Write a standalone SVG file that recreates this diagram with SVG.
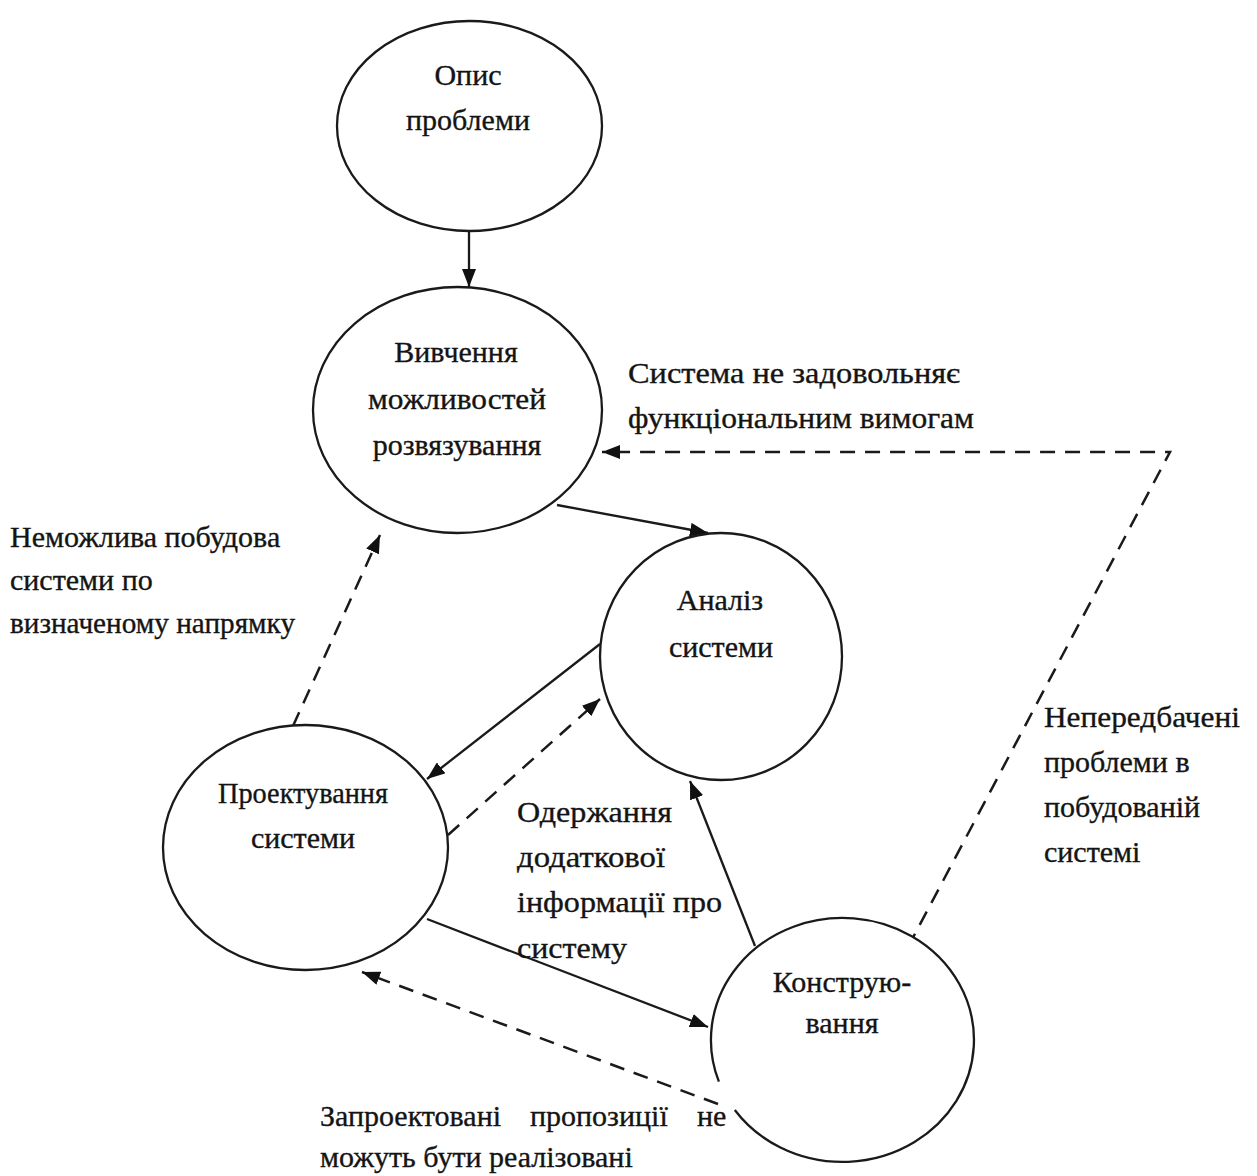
<svg xmlns="http://www.w3.org/2000/svg" width="1257" height="1176" viewBox="0 0 1257 1176">
  <style>
    .node { fill: #ffffff; stroke: #1a1a1a; stroke-width: 2.3; }
    .lbl { font-family: "Liberation Serif", "Times New Roman", serif; font-size: 30px; fill: #141414; stroke: #141414; stroke-width: 0.35; }
    .ctr { text-anchor: middle; }
    .solid { fill: none; stroke: #1a1a1a; stroke-width: 2.3; }
    .dash { fill: none; stroke: #1a1a1a; stroke-width: 2.5; stroke-dasharray: 15 10; }
  </style>
  <defs>
    <marker id="head" markerUnits="userSpaceOnUse" markerWidth="19" markerHeight="14" refX="18" refY="7" orient="auto">
      <path d="M0,0 L18,7 L0,14 z" fill="#111111"/>
    </marker>
  </defs>

  <rect width="1257" height="1176" fill="#ffffff"/>

  <!-- connectors -->
  <g id="connectors">
    <line class="solid" x1="469" y1="231" x2="469" y2="287" marker-end="url(#head)"/>
    <line class="solid" x1="557" y1="505" x2="708" y2="533" marker-end="url(#head)"/>
    <line class="solid" x1="600" y1="644" x2="427" y2="779" marker-end="url(#head)"/>
    <line class="dash" x1="448" y1="835" x2="600" y2="699" marker-end="url(#head)"/>
    <line class="dash" x1="293" y1="726" x2="380" y2="535" marker-end="url(#head)"/>
    <line class="solid" x1="427" y1="919" x2="708" y2="1027" marker-end="url(#head)"/>
    <line class="solid" x1="755" y1="946" x2="690" y2="781" marker-end="url(#head)"/>
    <line class="dash" x1="718" y1="1104" x2="362" y2="972" marker-end="url(#head)"/>
    <polyline class="dash" points="908,947 1170,452 602,452" marker-end="url(#head)"/>
  </g>

  <!-- nodes -->
  <g id="node-opys">
    <ellipse class="node" cx="469.5" cy="126" rx="132.5" ry="105"/>
    <text class="lbl ctr" x="468" y="85">Опис</text>
    <text class="lbl ctr" x="468" y="130">проблеми</text>
  </g>

  <g id="node-vyvchennia">
    <ellipse class="node" cx="457.5" cy="410" rx="144.5" ry="123"/>
    <text class="lbl ctr" x="456" y="362">Вивчення</text>
    <text class="lbl ctr" x="457" y="409" textLength="178" lengthAdjust="spacingAndGlyphs">можливостей</text>
    <text class="lbl ctr" x="457" y="455">розвязування</text>
  </g>

  <g id="node-analiz">
    <ellipse class="node" cx="721" cy="656.5" rx="121" ry="123.5"/>
    <text class="lbl ctr" x="720" y="610">Аналіз</text>
    <text class="lbl ctr" x="721" y="657">системи</text>
  </g>

  <g id="node-proektuvannia">
    <ellipse class="node" cx="305.5" cy="847.5" rx="142.5" ry="122.5"/>
    <text class="lbl ctr" x="303" y="803" textLength="170" lengthAdjust="spacingAndGlyphs">Проектування</text>
    <text class="lbl ctr" x="303" y="848">системи</text>
  </g>

  <g id="node-konstruiuvannia">
    <!-- outline left open where the dashed return line leaves the node -->
    <path class="node" d="M734.8,1110 A131.5,122 0 1 0 718.9,1081.7"/>
    <text class="lbl ctr" x="842" y="992">Конструю-</text>
    <text class="lbl ctr" x="842" y="1033">вання</text>
  </g>

  <!-- edge labels -->
  <g id="labels">
    <text class="lbl" x="628" y="383" textLength="332" lengthAdjust="spacingAndGlyphs">Система не задовольняє</text>
    <text class="lbl" x="628" y="428" textLength="346" lengthAdjust="spacingAndGlyphs">функціональним вимогам</text>

    <text class="lbl" x="10" y="547">Неможлива побудова</text>
    <text class="lbl" x="10" y="590">системи по</text>
    <text class="lbl" x="10" y="633" textLength="285" lengthAdjust="spacingAndGlyphs">визначеному напрямку</text>

    <text class="lbl" x="1044" y="727" textLength="196" lengthAdjust="spacingAndGlyphs">Непередбачені</text>
    <text class="lbl" x="1044" y="772">проблеми в</text>
    <text class="lbl" x="1044" y="817">побудованій</text>
    <text class="lbl" x="1044" y="862">системі</text>

    <text class="lbl" x="517" y="822" textLength="155" lengthAdjust="spacingAndGlyphs">Одержання</text>
    <text class="lbl" x="517" y="867" textLength="148" lengthAdjust="spacingAndGlyphs">додаткової</text>
    <text class="lbl" x="517" y="912" textLength="205" lengthAdjust="spacingAndGlyphs">інформації про</text>
    <text class="lbl" x="517" y="958" textLength="110" lengthAdjust="spacingAndGlyphs">систему</text>

    <text class="lbl" y="1126"><tspan x="320">Запроектовані</tspan><tspan x="530">пропозиції</tspan><tspan x="697">не</tspan></text>
    <text class="lbl" x="320" y="1167">можуть бути реалізовані</text>
  </g>
</svg>
